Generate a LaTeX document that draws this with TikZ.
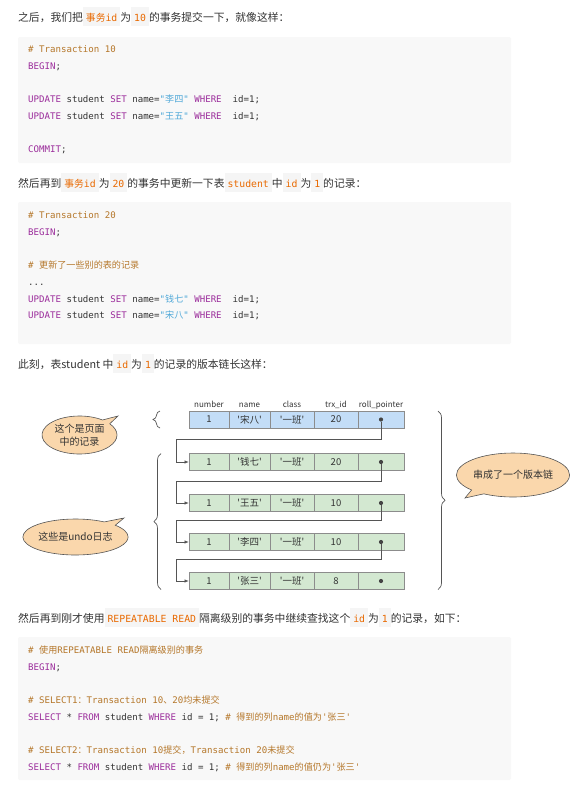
\documentclass[tikz,border=0pt]{standalone}
\usepackage{fontspec}
\setmainfont{Noto Sans CJK SC}
\setmonofont{DejaVu Sans Mono}
\newfontfamily\cjk{Noto Sans CJK SC}
\usetikzlibrary{positioning,arrows.meta,shapes.callouts,decorations.pathreplacing}

\definecolor{bodytext}{HTML}{333333}
\definecolor{inlinefg}{HTML}{E96900}
\definecolor{inlinebg}{HTML}{F5F5F5}
\definecolor{codebg}{HTML}{F8F8F8}
\definecolor{codefg}{HTML}{333333}
\definecolor{sqlkwc}{HTML}{9B2C9B}
\definecolor{sqlstrc}{HTML}{4FA8D8}
\definecolor{sqlcmtc}{HTML}{B5772A}
\definecolor{pagefill}{HTML}{C3DDF7}
\definecolor{undofill}{HTML}{D3E8D1}
\definecolor{cellline}{HTML}{8C8C8C}
\definecolor{bubblefill}{HTML}{FAD7AC}
\definecolor{linkline}{HTML}{555555}

\newcommand{\ic}[1]{{\setlength{\fboxsep}{0pt}\colorbox{inlinebg}{\rule[-5pt]{0pt}{19pt}\hspace{3pt}{\fontsize{9.8}{12}\ttfamily\color{inlinefg}#1}\hspace{3pt}}}}
\newcommand{\sqlkw}[1]{\textcolor{sqlkwc}{#1}}
\newcommand{\sqlstr}[1]{\textcolor{sqlstrc}{#1}}
\newcommand{\sqlcmt}[1]{\textcolor{sqlcmtc}{#1}}

\tikzset{
  para/.style={anchor=base west, inner sep=0pt, font=\fontsize{10.8}{13}\selectfont, text=bodytext},
  codeline/.style={anchor=base west, inner sep=0pt, font=\fontsize{9.1}{11}\ttfamily, text=codefg},
  cell/.style={draw=cellline, line width=0.6pt, minimum height=17pt, inner sep=0pt, outer sep=0pt,
    font=\cjk\fontsize{9.5}{11}\selectfont, text=bodytext},
  pagecell/.style={cell, fill=pagefill},
  undocell/.style={cell, fill=undofill},
  numcol/.style={minimum width=40pt},
  namecol/.style={minimum width=41pt},
  classcol/.style={minimum width=44pt},
  trxcol/.style={minimum width=44pt},
  ptrcol/.style={minimum width=46pt},
  header/.style={anchor=base, inner sep=0pt, font=\cjk\fontsize{8}{9}\selectfont, text=bodytext},
  dot/.style={circle, fill=linkline!80!black, inner sep=0pt, minimum size=4.2pt},
  link/.style={draw=linkline, line width=0.8pt, -{Latex[length=4.5pt,width=3.5pt]}},
  brace/.style={decorate, decoration={brace, amplitude=7pt}, draw=linkline, line width=0.7pt},
  bubble/.style={ellipse callout, draw=linkline, fill=bubblefill, line width=0.6pt, inner sep=0pt,
    callout pointer arc=16, font=\cjk\fontsize{10}{12.7}\selectfont, text=bodytext, align=center}
}

\begin{document}
\begin{tikzpicture}[x=1pt,y=-1pt]
  \path[use as bounding box, fill=white] (0,0) rectangle (585,785);

  \node[para] (t1) at (18,21) {之后，我们把\ic{{\cjk 事务}id}为\ic{10}的事务提交一下，就像这样：};
  \fill[codebg, rounded corners=2pt] (18,37) rectangle (511,163);
  \node[codeline] (a1) at (28,52.6) {\sqlcmt{\# Transaction 10}};
  \node[codeline] (a2) at (28,69.3) {\sqlkw{BEGIN};};
  \node[codeline] (a3) at (28,102.6) {\sqlkw{UPDATE} student \sqlkw{SET} name=\sqlstr{"{\cjk 李四}"} \sqlkw{WHERE}\ \ id=1;};
  \node[codeline] (a4) at (28,119.3) {\sqlkw{UPDATE} student \sqlkw{SET} name=\sqlstr{"{\cjk 王五}"} \sqlkw{WHERE}\ \ id=1;};
  \node[codeline] (a5) at (28,152.4) {\sqlkw{COMMIT};};

  \node[para] (t2) at (18,187) {然后再到\ic{{\cjk 事务}id}为\ic{20}的事务中更新一下表\ic{student}中\ic{id}为\ic{1}的记录：};
  \fill[codebg, rounded corners=2pt] (18,202) rectangle (511,344);
  \node[codeline] (b1) at (28,218.5) {\sqlcmt{\# Transaction 20}};
  \node[codeline] (b2) at (28,235.2) {\sqlkw{BEGIN};};
  \node[codeline] (b3) at (28,268.6) {\sqlcmt{\# {\cjk 更新了一些别的表的记录}}};
  \node[codeline] (b4) at (28,285.3) {...};
  \node[codeline] (b5) at (28,302) {\sqlkw{UPDATE} student \sqlkw{SET} name=\sqlstr{"{\cjk 钱七}"} \sqlkw{WHERE}\ \ id=1;};
  \node[codeline] (b6) at (28,318.7) {\sqlkw{UPDATE} student \sqlkw{SET} name=\sqlstr{"{\cjk 宋八}"} \sqlkw{WHERE}\ \ id=1;};

  \node[para] (t3) at (18,368) {此刻，表student 中\ic{id}为\ic{1}的记录的版本链长这样：};

  \node[pagecell, numcol] (r1c1) at (209,419.5) {1};
  \node[pagecell, namecol, right=0pt of r1c1] (r1c2) {'宋八'};
  \node[pagecell, classcol, right=0pt of r1c2] (r1c3) {'一班'};
  \node[pagecell, trxcol, right=0pt of r1c3] (r1c4) {20};
  \node[pagecell, ptrcol, right=0pt of r1c4] (r1c5) {};
  \node[undocell, numcol] (r2c1) at (209,462) {1};
  \node[undocell, namecol, right=0pt of r2c1] (r2c2) {'钱七'};
  \node[undocell, classcol, right=0pt of r2c2] (r2c3) {'一班'};
  \node[undocell, trxcol, right=0pt of r2c3] (r2c4) {20};
  \node[undocell, ptrcol, right=0pt of r2c4] (r2c5) {};
  \node[undocell, numcol] (r3c1) at (209,503) {1};
  \node[undocell, namecol, right=0pt of r3c1] (r3c2) {'王五'};
  \node[undocell, classcol, right=0pt of r3c2] (r3c3) {'一班'};
  \node[undocell, trxcol, right=0pt of r3c3] (r3c4) {10};
  \node[undocell, ptrcol, right=0pt of r3c4] (r3c5) {};
  \node[undocell, numcol] (r4c1) at (209,542) {1};
  \node[undocell, namecol, right=0pt of r4c1] (r4c2) {'李四'};
  \node[undocell, classcol, right=0pt of r4c2] (r4c3) {'一班'};
  \node[undocell, trxcol, right=0pt of r4c3] (r4c4) {10};
  \node[undocell, ptrcol, right=0pt of r4c4] (r4c5) {};
  \node[undocell, numcol] (r5c1) at (209,581) {1};
  \node[undocell, namecol, right=0pt of r5c1] (r5c2) {'张三'};
  \node[undocell, classcol, right=0pt of r5c2] (r5c3) {'一班'};
  \node[undocell, trxcol, right=0pt of r5c3] (r5c4) {8};
  \node[undocell, ptrcol, right=0pt of r5c4] (r5c5) {};

  \node[header] (hnum) at ([yshift=4pt]r1c1.north) {number};
  \node[header] (hname) at ([yshift=4pt]r1c2.north) {name};
  \node[header] (hclass) at ([yshift=4pt]r1c3.north) {class};
  \node[header] (htrx) at ([yshift=4pt]r1c4.north) {trx\_id};
  \node[header] (hptr) at ([yshift=4pt]r1c5.north) {roll\_pointer};

  \node[dot] (p1) at (r1c5.center) {};
  \node[dot] (p2) at (r2c5.center) {};
  \node[dot] (p3) at (r3c5.center) {};
  \node[dot] (p4) at (r4c5.center) {};
  \node[dot] (p5) at (r5c5.center) {};
  \coordinate (k1) at (176,439);
  \coordinate (k2) at (176,481);
  \coordinate (k3) at (176,520);
  \coordinate (k4) at (176,559);
  \draw[link] (p1) |- (k1) |- (r2c1.west);
  \draw[link] (p2) |- (k2) |- (r3c1.west);
  \draw[link] (p3) |- (k3) |- (r4c1.west);
  \draw[link] (p4) |- (k4) |- (r5c1.west);

  \draw[brace] ([xshift=-29pt]r1c1.south west) -- ([xshift=-29pt]r1c1.north west);
  \draw[brace] ([xshift=-28pt]r5c1.south west) -- ([xshift=-28pt]r2c1.north west);
  \draw[brace] ([xshift=34pt]r1c5.north east) -- ([xshift=34pt]r5c5.south east);

  \coordinate (tip1) at (118,416);
  \coordinate (tip2) at (124,518);
  \coordinate (tip3) at (465,498);
  \node[bubble, minimum width=75pt, minimum height=38pt, callout absolute pointer={(tip1)}] (b1) at (79.5,435) {这个是页面\\中的记录};
  \node[bubble, minimum width=92pt, minimum height=36pt, callout absolute pointer={(tip2)}] (b2) at (75.5,537) {这些是undo日志};
  \node[bubble, minimum width=97pt, minimum height=44pt, callout absolute pointer={(tip3)}] (b3) at (513,475) {串成了一个版本链};

  \node[para] (t4) at (18,622) {然后再到刚才使用\ic{REPEATABLE READ}隔离级别的事务中继续查找这个\ic{id}为\ic{1}的记录，如下：};
  \fill[codebg, rounded corners=2pt] (18,637) rectangle (511,780);
  \node[codeline] (c1) at (28,653.5) {\sqlcmt{\# {\cjk 使用}REPEATABLE READ{\cjk 隔离级别的事务}}};
  \node[codeline] (c2) at (28,670.2) {\sqlkw{BEGIN};};
  \node[codeline] (c3) at (28,703.6) {\sqlcmt{\# SELECT1{\cjk ：}Transaction 10{\cjk 、}20{\cjk 均未提交}}};
  \node[codeline] (c4) at (28,720.3) {\sqlkw{SELECT} * \sqlkw{FROM} student \sqlkw{WHERE} id = 1; \sqlcmt{\# {\cjk 得到的列}name{\cjk 的值为}'{\cjk 张三}'}};
  \node[codeline] (c5) at (28,753.7) {\sqlcmt{\# SELECT2{\cjk ：}Transaction 10{\cjk 提交，}Transaction 20{\cjk 未提交}}};
  \node[codeline] (c6) at (28,770.4) {\sqlkw{SELECT} * \sqlkw{FROM} student \sqlkw{WHERE} id = 1; \sqlcmt{\# {\cjk 得到的列}name{\cjk 的值仍为}'{\cjk 张三}'}};
\end{tikzpicture}
\end{document}
